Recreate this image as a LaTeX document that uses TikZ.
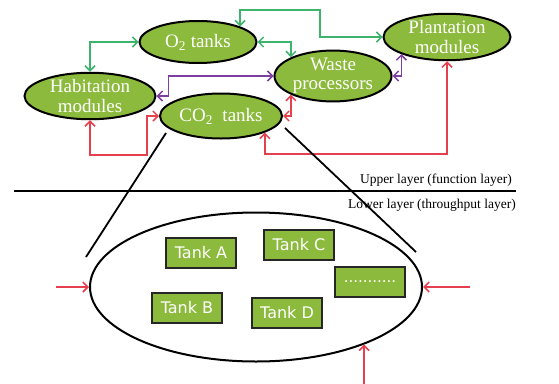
\documentclass[tikz,border=0pt]{standalone}
\usepackage{fontspec}
\setmainfont{Liberation Serif}
\newfontfamily\tankfont{DejaVu Sans}
\usetikzlibrary{shapes.geometric,arrows.meta,calc}
\definecolor{leaf}{HTML}{8CBA3C}
\definecolor{lgreen}{HTML}{3DB36B}
\definecolor{lpurple}{HTML}{7D3FA0}
\definecolor{lred}{HTML}{E4404E}
\tikzset{
  func/.style={ellipse, draw=black, line width=2pt, fill=leaf, text=white,
    inner sep=0pt, font=\fontsize{19}{19.5}\selectfont, align=center},
  tankbox/.style={rectangle, draw=black!85, line width=2.2pt, fill=leaf, text=white,
    inner sep=0pt, minimum width=70pt, minimum height=30pt, font=\tankfont\fontsize{16}{18}\selectfont},
  conn/.style={line width=1.5pt, {Straight Barb[length=5pt,width=10pt]}-{Straight Barb[length=5pt,width=10pt]}},
  inflow/.style={line width=1.6pt, lred, -{Straight Barb[length=5pt,width=10pt]}},
  layertext/.style={font=\fontsize{13.5}{15}\selectfont, inner sep=0pt},
}
\begin{document}
\begin{tikzpicture}[x=1pt,y=1pt]
\useasboundingbox (0,0) rectangle (559,-383);
% upper layer nodes
\node[func, minimum width=117pt, minimum height=42pt] (o2) at (198,-42) {O\textsubscript{2} tanks};
\node[func, minimum width=131pt, minimum height=44pt] (hab) at (90,-96) {Habitation\\modules};
\node[func, minimum width=122pt, minimum height=45pt] (co2) at (221,-116) {CO\textsubscript{2}\ \ tanks};
\node[func, minimum width=117pt, minimum height=46pt] (waste) at (333,-76) {Waste\\processors};
\node[func, minimum width=127pt, minimum height=46pt] (plant) at (447,-37) {Plantation\\modules};
% green connectors
\draw[conn, lgreen] (hab.north) |- (o2.west);
\draw[conn, lgreen] (o2.north east) |- (320,-10) |- (plant.west);
\draw[conn, lgreen] (o2.east) -| (waste.north west);
% purple connectors
\draw[conn, lpurple] (hab.east) -- ++(12,0) |- (waste.west);
\draw[conn, lpurple] (waste.east) -| (plant.south west);
% red connectors
\draw[conn, lred] (hab.south) |- (147,-155) |- (co2.west);
\draw[conn, lred] (co2.east) -| (waste.south west);
\draw[conn, lred] (co2.south east) |- (447,-154) -- (plant.south);
% layer separator
\coordinate (sepL) at (14,-191);
\coordinate (sepR) at (516,-191);
\draw[line width=1.8pt] (sepL) -- (sepR);
\node[layertext, anchor=base east] (upper) at (512,-183) {Upper layer (function layer)};
\node[layertext, anchor=base east] (lower) at (516,-208) {Lower layer (throughput layer)};
% lower layer
\node[ellipse, draw=black, line width=2pt, fill=white, minimum width=332pt, minimum height=149pt, inner sep=0pt] (tankset) at (256,-287) {};
\coordinate (zl1) at (166,-133);
\coordinate (zl2) at (86,-257);
\coordinate (zr1) at (285,-128);
\coordinate (zr2) at (416,-252);
\draw[line width=1.8pt] (zl1) -- (zl2);
\draw[line width=1.8pt] (zr1) -- (zr2);
\node[tankbox] (ta) at (201,-253) {Tank A};
\node[tankbox] (tc) at (299,-245) {Tank C};
\node[tankbox] (tdots) at (370,-282) {\fontsize{15}{16}\selectfont ...........};
\node[tankbox] (tb) at (187,-308) {Tank B};
\node[tankbox] (td) at (287,-313) {Tank D};
% inflows
\coordinate (inL) at (56,-287);
\coordinate (inR) at (470,-287);
\draw[inflow] (inL) -- (tankset.west);
\draw[inflow] (inR) -- (tankset.east);
\draw[inflow] (tankset.-28) ++(0,-40) -- (tankset.-28);
\end{tikzpicture}
\end{document}
